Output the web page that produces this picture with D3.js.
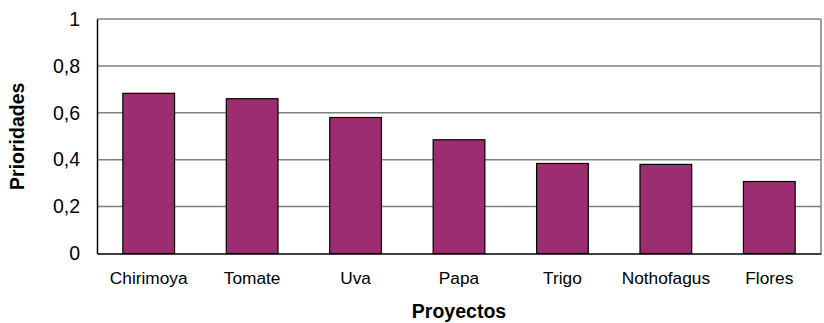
<!DOCTYPE html>
<html>
<head>
<meta charset="utf-8">
<script src="https://cdn.jsdelivr.net/npm/d3@7"></script>
<style>
body { margin: 0; background: #fff; }
text { font-family: Arial, "Liberation Sans", sans-serif; fill: #000; }
</style>
</head>
<body>
<div id="main"></div>
<script>
// data
var proyectos = ['Chirimoya', 'Tomate', 'Uva', 'Papa', 'Trigo', 'Nothofagus', 'Flores'];
var prioridades = [0.683, 0.660, 0.580, 0.485, 0.384, 0.380, 0.307];
var yTicks = [0, 0.2, 0.4, 0.6, 0.8, 1];

var W = 824, H = 323;
var plot = {left: 97, right: 821, top: 19, bottom: 253.5};

var svg = d3.select('#main').append('svg')
			.attr('width', W)
			.attr('height', H);

var x = d3.scaleBand()
	.domain(proyectos)
	.range([plot.left, plot.right])
	.paddingInner(0.5)
	.paddingOuter(0.25);

var y = d3.scaleLinear()
	.domain([0, 1])
	.range([plot.bottom, plot.top]);

// grid lines
svg.append('g')
	.selectAll('line')
	.data(yTicks.filter(function(d){ return d > 0; }))
	.enter()
	.append('line')
	.attr('x1', plot.left).attr('x2', plot.right)
	.attr('y1', function(d){ return y(d); })
	.attr('y2', function(d){ return y(d); })
	.style('stroke', '#808080')
	.style('stroke-width', 1.5);

// right border
svg.append('line')
	.attr('x1', plot.right).attr('x2', plot.right)
	.attr('y1', plot.top).attr('y2', plot.bottom)
	.style('stroke', '#808080')
	.style('stroke-width', 1.5);

// bars
svg.append('g')
	.selectAll('rect')
	.data(prioridades)
	.enter()
	.append('rect')
	.attr('x', function(d, i){ return x(proyectos[i]); })
	.attr('width', x.bandwidth())
	.attr('y', function(d){ return y(d); })
	.attr('height', function(d){ return y(0) - y(d); })
	.style('fill', '#9b2d70')
	.style('stroke', '#000')
	.style('stroke-width', 1.2);

// y axis
var yAxis = svg.append('g')
	.attr('transform', 'translate(' + plot.left + ',0)')
	.call(d3.axisLeft(y).tickValues(yTicks).tickSize(0).tickPadding(17)
		.tickFormat(function(d){ return d3.format('~g')(d).replace('.', ','); }));
yAxis.select('.domain').style('stroke', '#000').style('stroke-width', 1.5);
yAxis.selectAll('text').style('font-size', '19.5px').attr('font-family', null);

// x axis
var xAxis = svg.append('g')
	.attr('transform', 'translate(0,' + plot.bottom + ')')
	.call(d3.axisBottom(x).tickSize(0).tickPadding(18));
xAxis.select('.domain').style('stroke', '#000').style('stroke-width', 1.5);
xAxis.selectAll('text').style('font-size', '17.3px').attr('font-family', null);

// axis titles
svg.append('text')
	.text('Proyectos')
	.attr('x', (plot.left + plot.right) / 2)
	.attr('y', 318)
	.attr('text-anchor', 'middle')
	.style('font-size', '19.5px')
	.style('font-weight', 'bold');

svg.append('text')
	.text('Prioridades')
	.attr('transform', 'translate(24,' + (plot.top + plot.bottom) / 2 + ') rotate(-90)')
	.attr('text-anchor', 'middle')
	.style('font-size', '19.5px')
	.style('font-weight', 'bold');
</script>
</body>
</html>
